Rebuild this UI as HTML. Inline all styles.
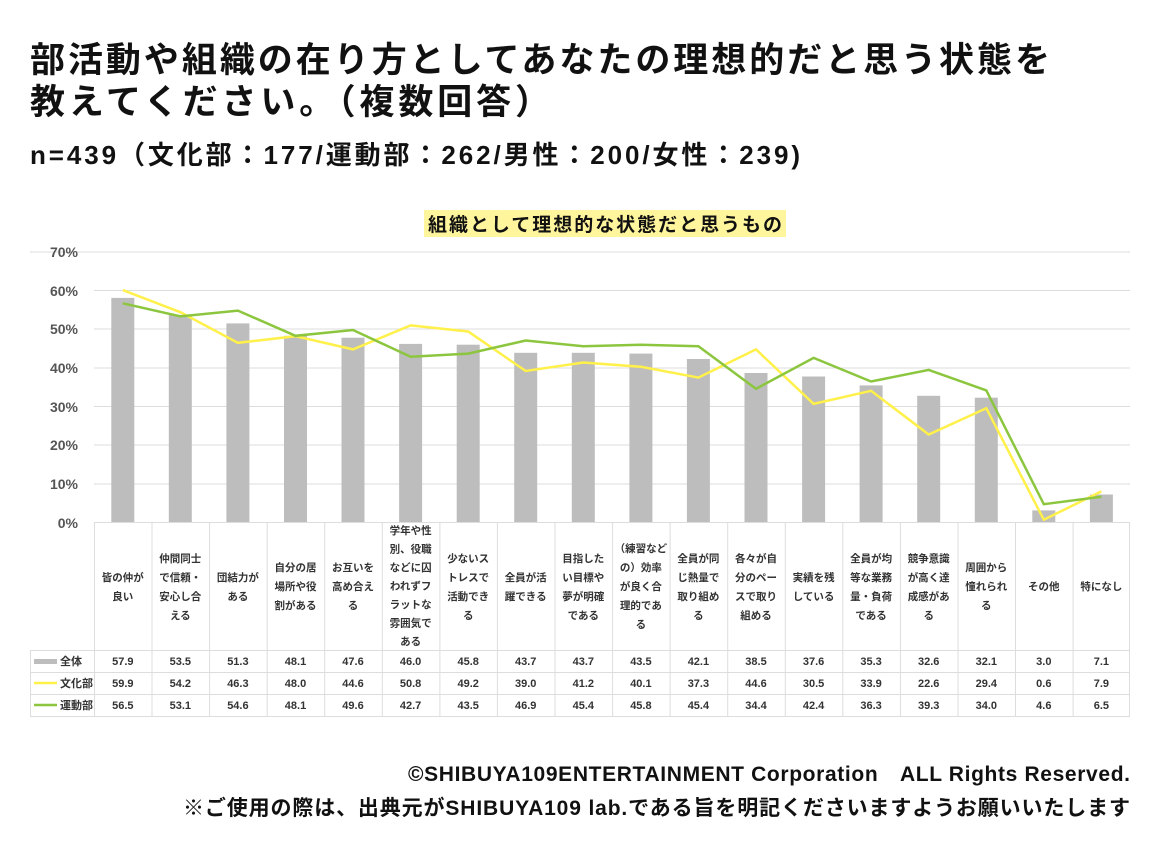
<!DOCTYPE html>
<html><head><meta charset="utf-8"><style>
body{margin:0;width:1160px;height:860px;background:#fff;overflow:hidden;font-family:"Liberation Sans","Noto Sans CJK JP",sans-serif;}
svg text{font-family:"Liberation Sans","Noto Sans CJK JP",sans-serif;}
</style></head><body>
<svg width="1160" height="860" viewBox="0 0 1160 860" xmlns="http://www.w3.org/2000/svg">
<text x="30" y="72" font-size="35" font-weight="bold" fill="#111" textLength="1020" lengthAdjust="spacing">部活動や組織の在り方としてあなたの理想的だと思う状態を</text>
<text x="30" y="114" font-size="35" font-weight="bold" fill="#111" textLength="520" lengthAdjust="spacing">教えてください。（複数回答）</text>
<text x="30" y="164" font-size="26" font-weight="bold" fill="#111" textLength="770" lengthAdjust="spacing">n=439（文化部：177/運動部：262/男性：200/女性：239)</text>
<rect x="424" y="210" width="362" height="27" fill="#fff59d"/>
<text x="428" y="231" font-size="19" font-weight="bold" fill="#111" textLength="354" lengthAdjust="spacing">組織として理想的な状態だと思うもの</text>
<line x1="30" y1="252" x2="1130" y2="252" stroke="#ddd"/>
<g stroke="#ddd" stroke-width="1">
<line x1="94" y1="290.5" x2="1130" y2="290.5"/><line x1="94" y1="329" x2="1130" y2="329"/>
<line x1="94" y1="368" x2="1130" y2="368"/><line x1="94" y1="406.5" x2="1130" y2="406.5"/>
<line x1="94" y1="445" x2="1130" y2="445"/><line x1="94" y1="484" x2="1130" y2="484"/>
</g>
<g font-size="14" font-weight="bold" fill="#555" text-anchor="end">
<text x="78" y="257">70%</text><text x="78" y="296">60%</text><text x="78" y="334">50%</text>
<text x="78" y="373">40%</text><text x="78" y="412">30%</text><text x="78" y="450">20%</text>
<text x="78" y="489">10%</text><text x="78" y="528">0%</text>
</g>
<g fill="#bdbdbd">
<rect x="111.3" y="297.9" width="23" height="224.1"/><rect x="168.8" y="314.9" width="23" height="207.1"/>
<rect x="226.4" y="323.4" width="23" height="198.6"/><rect x="284" y="335.8" width="23" height="186.2"/>
<rect x="341.5" y="337.7" width="23" height="184.3"/><rect x="399.1" y="343.9" width="23" height="178.1"/>
<rect x="456.7" y="344.7" width="23" height="177.3"/><rect x="514.2" y="352.8" width="23" height="169.2"/>
<rect x="571.8" y="352.8" width="23" height="169.2"/><rect x="629.4" y="353.6" width="23" height="168.4"/>
<rect x="686.9" y="359" width="23" height="163"/><rect x="744.5" y="373" width="23" height="149"/>
<rect x="802.1" y="376.5" width="23" height="145.5"/><rect x="859.6" y="385.4" width="23" height="136.6"/>
<rect x="917.2" y="395.8" width="23" height="126.2"/><rect x="974.8" y="397.7" width="23" height="124.3"/>
<rect x="1032.3" y="510.4" width="23" height="11.6"/><rect x="1089.9" y="494.5" width="23" height="27.5"/>
</g>
<polyline fill="none" stroke="#fff04a" stroke-width="2.5" points="122.8,290.1 180.3,312.2 237.9,342.8 295.5,336.2 353,349.4 410.6,325.4 468.2,331.5 525.7,371 583.3,362.5 640.9,366.8 698.4,377.6 756,349.4 813.6,403.9 871.1,390.8 928.7,434.5 986.3,408.2 1043.8,519.7 1101.4,491.4"/>
<polyline fill="none" stroke="#8cc63f" stroke-width="2.5" points="122.8,303.3 180.3,316.4 237.9,310.6 295.5,335.8 353,330 410.6,356.7 468.2,353.6 525.7,340.5 583.3,346.3 640.9,344.7 698.4,346.3 756,388.8 813.6,357.9 871.1,381.5 928.7,369.9 986.3,390.4 1043.8,504.2 1101.4,496.8"/>
<g stroke="#ddd" stroke-width="1">
<line x1="94" y1="522.5" x2="1130" y2="522.5"/>
<line x1="30" y1="650.5" x2="1130" y2="650.5"/><line x1="30" y1="672.5" x2="1130" y2="672.5"/>
<line x1="30" y1="694.5" x2="1130" y2="694.5"/><line x1="30" y1="716.5" x2="1130" y2="716.5"/>
<line x1="30.5" y1="650" x2="30.5" y2="716"/>
<line x1="94.5" y1="522" x2="94.5" y2="716"/><line x1="152" y1="522" x2="152" y2="716"/>
<line x1="209.6" y1="522" x2="209.6" y2="716"/><line x1="267.2" y1="522" x2="267.2" y2="716"/>
<line x1="324.7" y1="522" x2="324.7" y2="716"/><line x1="382.3" y1="522" x2="382.3" y2="716"/>
<line x1="439.9" y1="522" x2="439.9" y2="716"/><line x1="497.4" y1="522" x2="497.4" y2="716"/>
<line x1="555" y1="522" x2="555" y2="716"/><line x1="612.6" y1="522" x2="612.6" y2="716"/>
<line x1="670.1" y1="522" x2="670.1" y2="716"/><line x1="727.7" y1="522" x2="727.7" y2="716"/>
<line x1="785.3" y1="522" x2="785.3" y2="716"/><line x1="842.8" y1="522" x2="842.8" y2="716"/>
<line x1="900.4" y1="522" x2="900.4" y2="716"/><line x1="958" y1="522" x2="958" y2="716"/>
<line x1="1015.5" y1="522" x2="1015.5" y2="716"/><line x1="1073.1" y1="522" x2="1073.1" y2="716"/>
<line x1="1129.5" y1="522" x2="1129.5" y2="716"/>
</g>
<g font-size="10.5" font-weight="bold" fill="#333" text-anchor="middle">
<text x="122.8" y="581">皆の仲が</text><text x="122.8" y="600">良い</text>
<text x="180.3" y="562">仲間同士</text><text x="180.3" y="581">で信頼・</text><text x="180.3" y="600">安心し合</text><text x="180.3" y="619">える</text>
<text x="237.9" y="581">団結力が</text><text x="237.9" y="600">ある</text>
<text x="295.5" y="571">自分の居</text><text x="295.5" y="590">場所や役</text><text x="295.5" y="609">割がある</text>
<text x="353" y="571">お互いを</text><text x="353" y="590">高め合え</text><text x="353" y="609">る</text>
<text x="410.6" y="534">学年や性</text><text x="410.6" y="552.5">別、役職</text><text x="410.6" y="571">などに囚</text><text x="410.6" y="589.5">われずフ</text><text x="410.6" y="608">ラットな</text><text x="410.6" y="626.5">雰囲気で</text><text x="410.6" y="645">ある</text>
<text x="468.2" y="562">少ないス</text><text x="468.2" y="581">トレスで</text><text x="468.2" y="600">活動でき</text><text x="468.2" y="619">る</text>
<text x="525.7" y="581">全員が活</text><text x="525.7" y="600">躍できる</text>
<text x="583.3" y="562">目指した</text><text x="583.3" y="581">い目標や</text><text x="583.3" y="600">夢が明確</text><text x="583.3" y="619">である</text>
<text x="640.9" y="552">（練習など</text><text x="640.9" y="571">の）効率</text><text x="640.9" y="590">が良く合</text><text x="640.9" y="609">理的であ</text><text x="640.9" y="628">る</text>
<text x="698.4" y="562">全員が同</text><text x="698.4" y="581">じ熱量で</text><text x="698.4" y="600">取り組め</text><text x="698.4" y="619">る</text>
<text x="756" y="562">各々が自</text><text x="756" y="581">分のペー</text><text x="756" y="600">スで取り</text><text x="756" y="619">組める</text>
<text x="813.6" y="581">実績を残</text><text x="813.6" y="600">している</text>
<text x="871.1" y="562">全員が均</text><text x="871.1" y="581">等な業務</text><text x="871.1" y="600">量・負荷</text><text x="871.1" y="619">である</text>
<text x="928.7" y="562">競争意識</text><text x="928.7" y="581">が高く達</text><text x="928.7" y="600">成感があ</text><text x="928.7" y="619">る</text>
<text x="986.3" y="571">周囲から</text><text x="986.3" y="590">憧れられ</text><text x="986.3" y="609">る</text>
<text x="1043.8" y="590">その他</text>
<text x="1101.4" y="590">特になし</text>
</g>
<rect x="34" y="659" width="23" height="5" fill="#bdbdbd"/>
<line x1="34" y1="683" x2="57" y2="683" stroke="#fff04a" stroke-width="2.5"/>
<line x1="34" y1="705" x2="57" y2="705" stroke="#8cc63f" stroke-width="2.5"/>
<g font-size="11" font-weight="bold" fill="#333">
<text x="60" y="665">全体</text><text x="60" y="687">文化部</text><text x="60" y="709">運動部</text>
</g>
<g font-size="11" font-weight="bold" fill="#333" text-anchor="middle">
<text y="665"><tspan x="122.8">57.9</tspan><tspan x="180.3">53.5</tspan><tspan x="237.9">51.3</tspan><tspan x="295.5">48.1</tspan><tspan x="353">47.6</tspan><tspan x="410.6">46.0</tspan><tspan x="468.2">45.8</tspan><tspan x="525.7">43.7</tspan><tspan x="583.3">43.7</tspan><tspan x="640.9">43.5</tspan><tspan x="698.4">42.1</tspan><tspan x="756">38.5</tspan><tspan x="813.6">37.6</tspan><tspan x="871.1">35.3</tspan><tspan x="928.7">32.6</tspan><tspan x="986.3">32.1</tspan><tspan x="1043.8">3.0</tspan><tspan x="1101.4">7.1</tspan></text>
<text y="687"><tspan x="122.8">59.9</tspan><tspan x="180.3">54.2</tspan><tspan x="237.9">46.3</tspan><tspan x="295.5">48.0</tspan><tspan x="353">44.6</tspan><tspan x="410.6">50.8</tspan><tspan x="468.2">49.2</tspan><tspan x="525.7">39.0</tspan><tspan x="583.3">41.2</tspan><tspan x="640.9">40.1</tspan><tspan x="698.4">37.3</tspan><tspan x="756">44.6</tspan><tspan x="813.6">30.5</tspan><tspan x="871.1">33.9</tspan><tspan x="928.7">22.6</tspan><tspan x="986.3">29.4</tspan><tspan x="1043.8">0.6</tspan><tspan x="1101.4">7.9</tspan></text>
<text y="709"><tspan x="122.8">56.5</tspan><tspan x="180.3">53.1</tspan><tspan x="237.9">54.6</tspan><tspan x="295.5">48.1</tspan><tspan x="353">49.6</tspan><tspan x="410.6">42.7</tspan><tspan x="468.2">43.5</tspan><tspan x="525.7">46.9</tspan><tspan x="583.3">45.4</tspan><tspan x="640.9">45.8</tspan><tspan x="698.4">45.4</tspan><tspan x="756">34.4</tspan><tspan x="813.6">42.4</tspan><tspan x="871.1">36.3</tspan><tspan x="928.7">39.3</tspan><tspan x="986.3">34.0</tspan><tspan x="1043.8">4.6</tspan><tspan x="1101.4">6.5</tspan></text>
</g>
<text x="408" y="781" font-size="21" font-weight="bold" fill="#111" textLength="722" lengthAdjust="spacing">©SHIBUYA109ENTERTAINMENT Corporation　ALL Rights Reserved.</text>
<text x="183" y="815" font-size="21" font-weight="bold" fill="#111" textLength="947" lengthAdjust="spacing">※ご使用の際は、出典元がSHIBUYA109 lab.である旨を明記くださいますようお願いいたします</text>
</svg>
</body></html>
